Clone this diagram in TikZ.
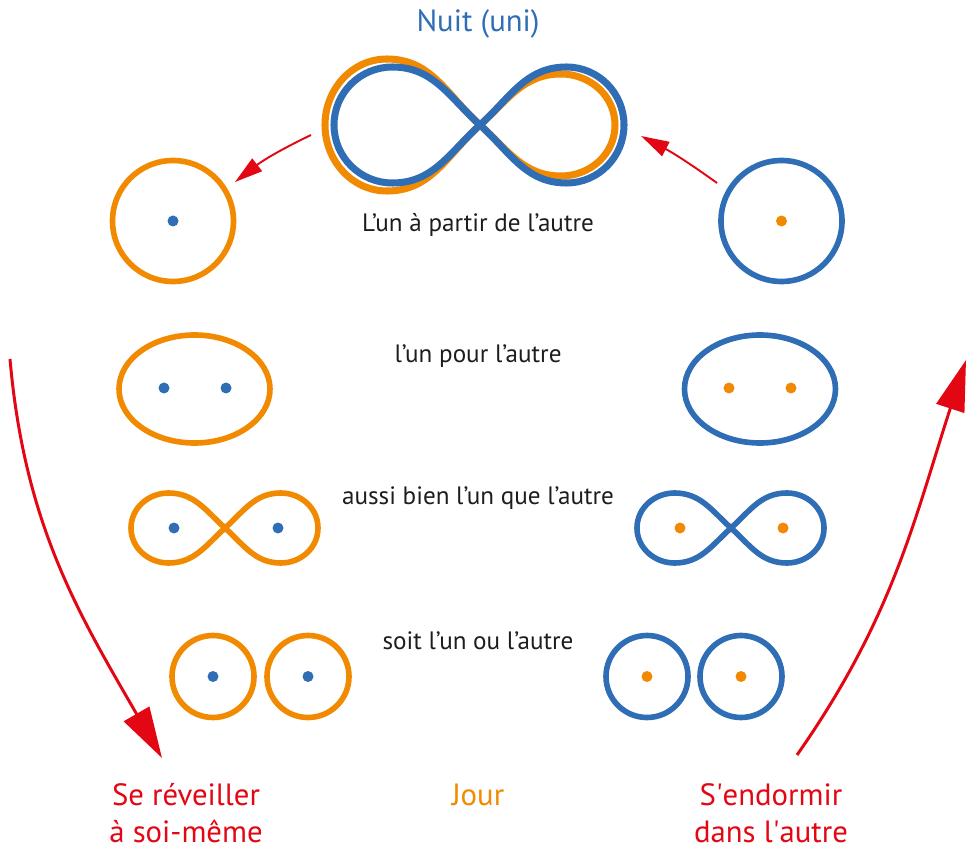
\documentclass[tikz,border=0pt]{standalone}
\usepackage{fontspec}
\setmainfont{PT Sans}
\usepackage{tikz}
\usetikzlibrary{arrows.meta, positioning, calc}
\definecolor{nightblue}{RGB}{47,109,181}
\definecolor{dayorange}{RGB}{241,138,0}
\definecolor{wakered}{RGB}{227,6,19}
\definecolor{inkgray}{RGB}{29,29,27}
\tikzstyle{ring} = [line width=3.2pt]
\tikzstyle{bigring} = [line width=4pt, line join=round]
\tikzstyle{spot} = [radius=5.5]
\tikzstyle{phrase} = [font=\fontsize{14.3}{17}\selectfont, text=inkgray, anchor=base]
\tikzstyle{heading} = [font=\fontsize{17.5}{21}\selectfont, anchor=base]
\tikzstyle{bigarrow} = [wakered, line width=1.7pt, -{Triangle[length=29pt, width=16.5pt]}]
\tikzstyle{smallarrow} = [wakered, line width=1.1pt, -{Triangle[length=16pt, width=9pt]}]
% figure-eight: style, crossing, left width, left height, right width, right height
\newcommand{\eightcurve}[6]{%
  \draw[#1, shift={(#2)}, line join=round] (0,0) to[out=42,in=180] (0.6*#5,#6) to[out=0,in=90] (#5,0)
    to[out=-90,in=0] (0.6*#5,-#6) to[out=180,in=-42] (0,0)
    to[out=138,in=0] (-0.6*#3,#4) to[out=180,in=90] (-#3,0)
    to[out=-90,in=180] (-0.6*#3,-#4) to[out=0,in=222] (0,0) -- cycle;}

\begin{document}
\begin{tikzpicture}[x=0.02cm, y=0.02cm]
\useasboundingbox (0,0) rectangle (968,850);

% night
\node[heading, text=nightblue] (night) at (478,818) {Nuit (uni)};
\coordinate (unity) at (480,725);
\eightcurve{dayorange, bigring}{unity}{155}{66}{135}{51}
\eightcurve{nightblue, bigring}{unity}{146}{58}{144}{58}

% left column: orange shapes, blue dots
\draw[dayorange, ring] (173,629) circle (60.5);
\fill[nightblue] (173,629) circle[spot];
\draw[dayorange, ring] (194.5,461) ellipse (75.5 and 54);
\fill[nightblue] (164,462) circle[spot] (226,462) circle[spot];
\coordinate (leftx) at (225,322);
\eightcurve{dayorange, ring}{leftx}{94}{35}{93}{35}
\fill[nightblue] (174,322) circle[spot] (278,322) circle[spot];
\draw[dayorange, ring] (213,173.5) circle (41) (308,173.5) circle (41);
\fill[nightblue] (213,173.5) circle[spot] (308,173.5) circle[spot];

% right column: blue shapes, orange dots
\draw[nightblue, ring] (781.5,629) circle (60.5);
\fill[dayorange] (781.5,629) circle[spot];
\draw[nightblue, ring] (760,461) ellipse (75.5 and 54);
\fill[dayorange] (729,462) circle[spot] (791,462) circle[spot];
\coordinate (rightx) at (731,322);
\eightcurve{nightblue, ring}{rightx}{94}{35}{93}{35}
\fill[dayorange] (680,322) circle[spot] (783,322) circle[spot];
\draw[nightblue, ring] (647,173.5) circle (41) (741,173.5) circle (41);
\fill[dayorange] (647,173.5) circle[spot] (741,173.5) circle[spot];

% phrases
\node[phrase] (from) at (478,618) {L’un à partir de l’autre};
\node[phrase] (for) at (478,487) {l’un pour l’autre};
\node[phrase] (both) at (478,346) {aussi bien l’un que l’autre};
\node[phrase] (either) at (478,201) {soit l’un ou l’autre};

% bottom labels
\node[heading, text=wakered] (wake) at (186,45) {Se réveiller};
\node[heading, text=wakered] (wakeb) at (186,8) {à soi-même};
\node[heading, text=dayorange] (day) at (478,45) {Jour};
\node[heading, text=wakered] (sleep) at (771,45) {S\textquotesingle endormir};
\node[heading, text=wakered] (sleepb) at (771,8) {dans l\textquotesingle autre};

% arrows
\coordinate (atail) at (311,715);
\coordinate (ahead) at (235,668);
\coordinate (btail) at (717,667);
\coordinate (bhead) at (641,714);
\coordinate (ctail) at (10,491);
\coordinate (chead) at (162,92);
\coordinate (dtail) at (797,95);
\coordinate (dhead) at (966,490);
\draw[smallarrow] (atail) to[bend right=6] (ahead);
\draw[smallarrow] (btail) to[bend right=4] (bhead);
\draw[bigarrow] (ctail) to[out=-85,in=120] (chead);
\draw[bigarrow] (dtail) to[out=55,in=-108] (dhead);
\end{tikzpicture}
\end{document}
